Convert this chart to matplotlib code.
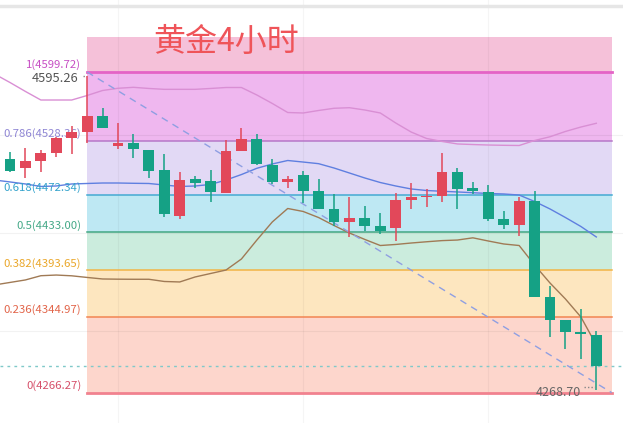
import matplotlib
matplotlib.use("Agg")
import matplotlib.pyplot as plt
from matplotlib.lines import Line2D

plt.rcParams['font.family'] = ['Noto Sans CJK SC', 'DejaVu Sans']

# 4h gold candles (index 0 is cut off at the left edge)
opens = [4432.3, 4509.2, 4500.2, 4507.5, 4515.8, 4531.4, 4537.6, 4553.9, 4523.1, 4525.6,
         4518.6, 4497.8, 4450.3, 4488.4, 4486.4, 4474.2, 4517.9, 4530.0, 4503.0, 4485.3,
         4492.6, 4476.0, 4457.2, 4444.0, 4447.6, 4439.6, 4437.2, 4466.9, 4469.7, 4471.1,
         4495.7, 4478.8, 4474.6, 4446.8, 4440.6, 4465.6, 4365.4, 4341.8, 4329.7, 4325.9]
highs = [4512.0, 4516.8, 4521.0, 4518.6, 4532.1, 4543.6, 4595.26, 4562.6, 4546.4, 4535.2,
         4518.8, 4514.1, 4495.4, 4491.6, 4497.8, 4529.0, 4541.2, 4535.2, 4509.2, 4491.6,
         4496.4, 4488.1, 4472.8, 4469.4, 4460.4, 4453.4, 4474.2, 4484.6, 4477.7, 4515.2,
         4499.9, 4485.0, 4482.2, 4455.2, 4469.4, 4476.0, 4377.2, 4342.0, 4353.3, 4330.7]
lows = [4430.0, 4496.1, 4489.8, 4496.1, 4511.0, 4514.4, 4526.2, 4541.0, 4519.3, 4510.0,
        4489.8, 4449.2, 4446.8, 4479.1, 4464.2, 4474.0, 4517.7, 4503.0, 4482.9, 4479.4,
        4463.2, 4457.0, 4439.6, 4427.8, 4434.7, 4430.9, 4424.3, 4456.9, 4459.6, 4464.8,
        4457.2, 4472.8, 4444.8, 4436.1, 4429.2, 4366.0, 4324.5, 4311.4, 4301.0, 4268.70]
closes = [4509.2, 4497.1, 4507.2, 4515.8, 4531.6, 4537.1, 4553.9, 4541.2, 4526.2, 4519.3,
          4496.8, 4451.7, 4487.1, 4484.6, 4475.2, 4517.6, 4530.0, 4503.7, 4485.6, 4488.4,
          4476.3, 4457.2, 4444.0, 4447.6, 4439.6, 4434.7, 4466.6, 4469.7, 4470.8, 4495.7,
          4478.0, 4475.7, 4446.8, 4440.6, 4465.6, 4366.1, 4341.8, 4329.0, 4327.3, 4293.5]

ma_pink = [4597.6, 4588.8, 4579.5, 4570.6, 4570.6, 4570.6, 4575.3, 4580.5, 4582.8, 4583.8,
           4582.6, 4581.7, 4581.7, 4581.7, 4582.6, 4583.6, 4583.6, 4575.8, 4567.0, 4557.6,
           4557.1, 4559.7, 4562.0, 4562.6, 4560.2, 4557.1, 4546.7, 4537.3, 4530.6, 4527.5,
           4524.9, 4524.3, 4523.8, 4523.5, 4523.3, 4528.5, 4532.4, 4537.9, 4542.5, 4546.4]
ma_blue = [4487.4, 4485.4, 4483.3, 4480.7, 4481.2, 4483.3, 4483.8, 4484.3, 4484.3, 4484.0,
           4483.8, 4482.2, 4480.7, 4481.2, 4482.8, 4487.4, 4493.1, 4499.6, 4504.1, 4507.7,
           4506.1, 4504.4, 4499.9, 4494.7, 4489.5, 4484.8, 4481.2, 4478.1, 4476.5, 4475.7,
           4475.0, 4474.2, 4473.4, 4472.9, 4471.8, 4465.1, 4457.3, 4448.4, 4439.1, 4428.2]
ma_brown = [4378.3, 4380.9, 4383.5, 4387.9, 4388.6, 4387.8, 4386.1, 4384.5, 4384.3, 4384.2,
            4384.2, 4381.9, 4381.4, 4386.6, 4390.2, 4393.8, 4405.3, 4425.0, 4443.8, 4457.8,
            4454.7, 4448.4, 4440.1, 4432.3, 4425.6, 4419.3, 4420.4, 4421.9, 4423.2, 4424.4,
            4425.0, 4427.3, 4424.0, 4420.9, 4419.3, 4399.0, 4380.3, 4363.7, 4345.0, 4315.9]

# Fibonacci retracement from the high (bar 6) to the end of the chart
fib_ratios = ["1", "0.786", "0.618", "0.5", "0.382", "0.236", "0"]
fib_prices = [4599.72, 4528.36, 4472.34, 4433.00, 4393.65, 4344.97, 4266.27]
fib_top = 4636.1
fib_start, fib_end = 6, 40
last_price = 4293.5
grid_prices = [4534, 4432, 4330]
grid_bars = [8, 20, 32]

band_colors = ["#f5c1d9", "#efb7ef", "#e2d9f5", "#bee8f3", "#cbecdd", "#fde6bf", "#fdd6cc"]
line_colors = ["#e463c6", "#b678c8", "#44aad2", "#43a683", "#f2b445", "#f28552", "#f1828f"]
label_colors = ["#c74fc4", "#8f86d4", "#35a3cc", "#45a988", "#eaa72a", "#e2654a", "#d6506a"]
up_color = "#e2485a"
down_color = "#15a185"

fig = plt.figure(figsize=(6.23, 4.23), dpi=100)
ax = fig.add_axes([0, 0, 1, 1])
ax.set_xlim(0.352, 40.73)
ax.set_ylim(4234.75, 4674.59)
ax.axis("off")

# bands
bounds = [fib_top] + fib_prices
for i in range(len(band_colors)):
    ax.fill_between([fib_start, fib_end], bounds[i + 1], bounds[i],
                    color=band_colors[i], lw=0, zorder=0.5)

# faint grid
for g in grid_prices:
    ax.axhline(g, color="black", alpha=0.05, lw=0.8, zorder=1)
for g in grid_bars:
    ax.axvline(g, color="black", alpha=0.04, lw=0.8, zorder=1)

# level lines and labels
for i, (r, p) in enumerate(zip(fib_ratios, fib_prices)):
    lw = 2 if r in ("1", "0") else 1.1
    ax.plot([fib_start, fib_end], [p, p], color=line_colors[i], lw=lw, zorder=1.2)
    ax.annotate(f"{r}({p:.2f})", xy=(fib_start, p), xytext=(-6, 7),
                textcoords="offset pixels", ha="right", va="center",
                fontsize=8.2, color=label_colors[i])

# trend dashed line
ax.plot([fib_start, fib_end], [fib_prices[0], fib_prices[-1]], color="#8f9fe2",
        lw=1, ls=(0, (5, 4)), zorder=2.5)

# moving averages
x = list(range(len(closes)))
ax.plot(x, ma_pink, color="#d98fd4", lw=1, zorder=2)
ax.plot(x, ma_blue, color="#5f7fe0", lw=1, zorder=2)
ax.plot(x, ma_brown, color="#a07a55", lw=1, zorder=2)

# last price line
ax.axhline(last_price, color="#7fc9c9", lw=1, ls=(0, (2, 3)), zorder=2)

# candles
for i in range(len(closes)):
    o, h, l, c = opens[i], highs[i], lows[i], closes[i]
    col = up_color if c >= o else down_color
    ax.vlines(i, l, h, color=col, lw=1.1, zorder=3)
    ax.bar(i, max(abs(c - o), 1.0), bottom=min(o, c), width=0.7,
           color=col, lw=0, zorder=3.1)

# high / low markers with short dotted leaders
hi = highs.index(max(highs))
lo = lows.index(min(lows))
ax.annotate(f"{highs[hi]:.2f}", xy=(hi, highs[hi]), xytext=(-9, -2),
            textcoords="offset pixels", ha="right", va="center",
            fontsize=9.3, color="#555555")
ax.plot([hi - 0.3, hi - 0.05], [highs[hi] + 0.5, highs[hi] + 0.5],
        color="#888888", lw=1, ls=(0, (1, 1.5)), zorder=3)
ax.annotate(f"{lows[lo]:.2f}", xy=(lo, lows[lo]), xytext=(-15, -2),
            textcoords="offset pixels", ha="right", va="center",
            fontsize=9, color="#666666")
ax.plot([lo - 0.8, lo - 0.1], [lows[lo] + 3.5, lows[lo] + 3.5],
        color="#888888", lw=1, ls=(0, (1, 1.5)), zorder=3)

# top separator and title
fig.add_artist(Line2D([0, 1], [0.986, 0.986], color="#e6e6e6", lw=2.5,
                      transform=fig.transFigure))
fig.text(0.363, 0.9, "黄金4小时", fontsize=23, color="#ef5459",
         ha="center", va="center")

plt.savefig("out.png", dpi=100)
